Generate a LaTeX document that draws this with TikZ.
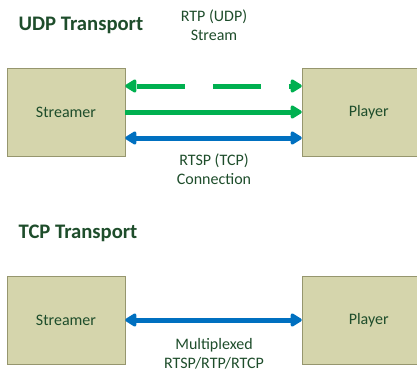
\documentclass[tikz,border=0pt]{standalone}
\usepackage{fontspec}
\setmainfont{Carlito}
\usetikzlibrary{arrows.meta,positioning}
\definecolor{txtgreen}{RGB}{30,77,43}
\definecolor{boxfill}{RGB}{213,213,172}
\definecolor{boxline}{RGB}{150,150,110}
\definecolor{arrgreen}{RGB}{0,176,80}
\definecolor{arrblue}{RGB}{0,112,192}
\begin{document}
\begin{tikzpicture}[
        x=0.75pt, y=-0.75pt,
        every node/.style={text=txtgreen, font=\fontsize{12}{14}\selectfont},
        title/.style={font=\fontsize{15.5}{18}\selectfont\bfseries, anchor=west},
        station/.style={draw=boxline, fill=boxfill, minimum width=88.5pt, minimum height=66pt, inner sep=0pt},
        label/.style={align=center, font=\fontsize{12}{14}\selectfont},
        link/.style={line width=3.75pt, {Triangle[length=9.5pt,width=11pt,round]}-{Triangle[length=9.5pt,width=11pt,round]}},
        flow/.style={line width=3.75pt, -{Triangle[length=9.5pt,width=11pt,round]}}
    ]
    \useasboundingbox (0,0) rectangle (417,372);
    % UDP transport
    \node[title] (udp) at (14,25) {UDP Transport};
    \node[station] (s1) at (66,112) {Streamer};
    \node[station, minimum width=100pt] (p1) at (368.7,112) {Player};
    \draw[link, arrgreen, dash pattern=on 36pt off 21pt, dash phase=56pt]
        ([yshift=19.5pt]s1.east) -- ([yshift=19.5pt]p1.west);
    \draw[flow, arrgreen] (s1.east) -- (p1.west);
    \draw[link, arrblue] ([yshift=-19.5pt]s1.east) -- ([yshift=-19.5pt]p1.west);
    \node[label] (rtp) at (214,25) {RTP (UDP)\\Stream};
    \node[label] (rtsp) at (214,169) {RTSP (TCP)\\Connection};
    % TCP transport
    \node[title] (tcp) at (14,233) {TCP Transport};
    \node[station] (s2) at (66,320) {Streamer};
    \node[station, minimum width=100pt] (p2) at (368.7,320) {Player};
    \draw[link, arrblue] (s2.east) -- (p2.west);
    \node[label] (mux) at (214,354) {Multiplexed\\RTSP/RTP/RTCP};
\end{tikzpicture}
\end{document}
